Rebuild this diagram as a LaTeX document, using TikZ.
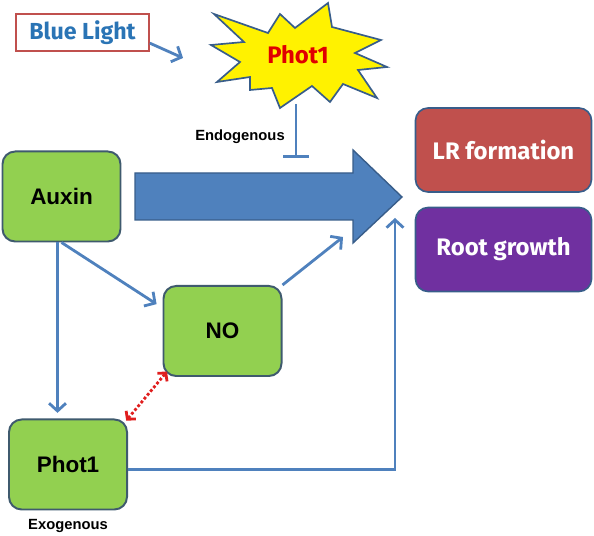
\documentclass[tikz,border=0pt]{standalone}
\usepackage{fontspec}
\setmainfont{Liberation Sans}
\newfontfamily\gothic{Fira Sans}
\usepackage{xcolor}
\definecolor{leaf}{HTML}{92D050}
\definecolor{edge}{HTML}{3F5A6E}
\definecolor{steel}{HTML}{4F81BD}
\definecolor{steeldark}{HTML}{385D8A}
\definecolor{brick}{HTML}{C0504D}
\definecolor{plum}{HTML}{7030A0}
\definecolor{sky}{HTML}{2A74B5}
\definecolor{alarm}{HTML}{E01E1E}
\definecolor{burstred}{HTML}{E00000}
\usepackage{tikz}
\usetikzlibrary{arrows.meta,positioning,calc}

\tikzset{
  greenbox/.style={draw=edge, fill=leaf, line width=1.4pt, rounded corners=9pt,
    minimum width=2.95cm, minimum height=2.25cm, font=\fontsize{16}{18}\selectfont\bfseries},
  outbox/.style={draw=steeldark, line width=1.2pt, rounded corners=9pt,
    minimum width=4.4cm, minimum height=2.1cm, text=white, font=\gothic\bfseries\fontsize{17}{19}\selectfont},
  link/.style={steel, line width=2pt, -{Straight Barb[length=5.5pt,width=12pt]}},
  tag/.style={font=\fontsize{10.5}{12}\selectfont\bfseries}
}

\begin{document}
\begin{tikzpicture}[x=0.025cm, y=-0.025cm]
    \useasboundingbox (0,0) rectangle (594,536);
    % Light input
    \node[draw=brick, line width=1.3pt, minimum width=3.32cm, minimum height=0.92cm, text=sky,
      font=\gothic\bfseries\fontsize{16.5}{18}\selectfont] (blue) at (82.5,32.5) {Blue Light};
    \draw[fill=yellow, draw=steeldark, line width=1.2pt]
      (214,14) -- (268,33) -- (280,14) -- (295,28) -- (328,3) -- (332,27) -- (381,40)
      -- (355,53) -- (387,67) -- (358,70) -- (377,98) -- (343,84) -- (330,102) -- (312,86)
      -- (280,108) -- (272,88) -- (250,90) -- (250,77) -- (217,82) -- (240,62) -- (211,45)
      -- (244,42) -- cycle;
    \node[text=burstred, font=\gothic\bfseries\fontsize{17}{19}\selectfont] (burst) at (298,55) {Phot1};
    \coordinate (lighttip) at (183,58);
    \draw[link] (blue.-9) -- (lighttip);
    % Endogenous block
    \coordinate (burstfoot) at (296,104);
    \coordinate (block) at (296,158);
    \draw[steel, line width=1.8pt, -{Bar[width=18pt]}] (burstfoot) -- (block);
    \node[tag] (endo) at (240,137) {Endogenous};
    % Main arrow
    \draw[fill=steel, draw=steeldark, line width=1pt]
      (135,173) -- (353,173) -- (353,150) -- (402,197) -- (353,243) -- (353,220) -- (135,220) -- cycle;
    \coordinate (notip) at (343,237);
    \coordinate (rise) at (395,218);
    % Boxes
    \node[greenbox] (auxin) at (61.5,196.5) {Auxin};
    \node[greenbox] (no) at (222.5,331) {NO};
    \node[greenbox] (exo) at (68,464.5) {Phot1};
    \node[tag] (exolabel) at (68,526) {Exogenous};
    \node[outbox, fill=brick] (lr) at (503.5,150) {LR formation};
    \node[outbox, fill=plum] (root) at (503.5,249.5) {Root growth};
    % Links
    \draw[link, shorten >=4pt] ([xshift=-1mm]auxin.south) -- ([xshift=-1mm]auxin.south |- exo.north);
    \draw[link, shorten >=5pt] (auxin.south) -- (no.159);
    \draw[link] (no.north east) -- (notip);
    \draw[link] ([yshift=-1.2mm]exo.east) -| (rise);
    \draw[alarm, line width=2pt, dash pattern=on 2pt off 1.5pt,
      {Straight Barb[length=4pt,width=9pt]}-{Straight Barb[length=4pt,width=9pt]},
      shorten <=-2pt, shorten >=-5pt] (exo.north east) -- (no.south west);
\end{tikzpicture}
\end{document}
